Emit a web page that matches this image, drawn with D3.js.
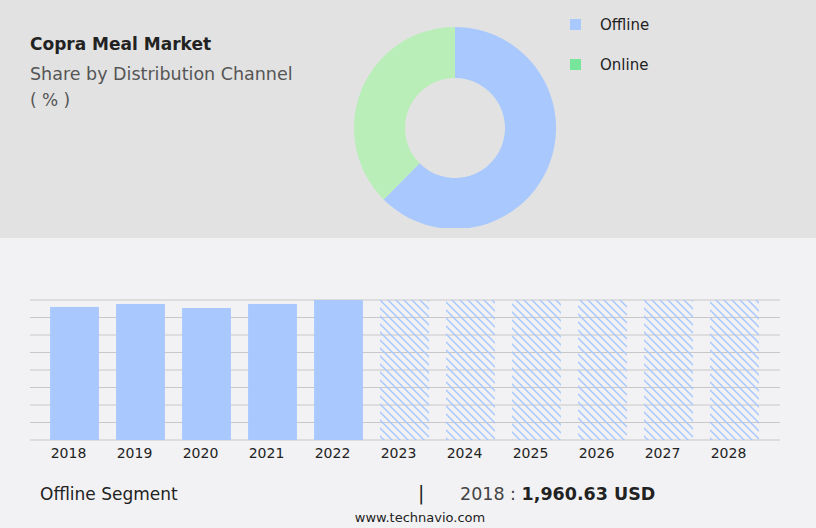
<!DOCTYPE html>
<html><head><meta charset="utf-8">
<script src="https://cdn.jsdelivr.net/npm/d3@7"></script>
<style>body{margin:0;font-family:"DejaVu Sans",sans-serif}</style>
</head><body>
<svg id="c" width="816" height="528"></svg>
<script>
var shareLabels=["Offline","Online"];
var shareValues=[62.5,37.5];
var shareColors=["#a8c8fe","#b9eeb9"];
var legendColors=["#a8c8fe","#77e59a"];
var years=["2018","2019","2020","2021","2022","2023","2024","2025","2026","2027","2028"];
var barValues=[1960.63,2005,1945,2005,2063,2063,2063,2063,2063,2063,2063];
var forecastFrom=5;

var svg=d3.select("#c").attr("font-family","DejaVu Sans");
svg.append("rect").attr("width",816).attr("height",528).attr("fill","#f2f2f4");
svg.append("rect").attr("width",816).attr("height",238).attr("fill","#e2e2e2");

svg.append("text").attr("x",30).attr("y",50).attr("font-size",17).attr("font-weight","bold").attr("fill","#222").text("Copra Meal Market");
svg.append("text").attr("x",30).attr("y",80).attr("font-size",17.5).attr("fill","#555").text("Share by Distribution Channel");
svg.append("text").attr("x",30).attr("y",106).attr("font-size",17).attr("fill","#555").text("( % )");

// donut
var defs=svg.append("defs");
defs.append("clipPath").attr("id","clipTop").append("rect").attr("width",816).attr("height",228);
var pie=d3.pie().sort(null).value(function(d){return d;});
var arc=d3.arc().innerRadius(50).outerRadius(101);
var g=svg.append("g").attr("clip-path","url(#clipTop)").append("g").attr("transform","translate(455,128)");
g.selectAll("path").data(pie(shareValues)).enter().append("path")
  .attr("d",arc).attr("fill",function(d,i){return shareColors[i];});

var lg=svg.append("g");
shareLabels.forEach(function(l,i){
  lg.append("rect").attr("x",570).attr("y",19+i*40).attr("width",11).attr("height",11).attr("fill",legendColors[i]);
  lg.append("text").attr("x",600).attr("y",30+i*40).attr("font-size",15).attr("fill","#222").text(l);
});

// bars
var pat=defs.append("pattern").attr("id","hatch").attr("patternUnits","userSpaceOnUse").attr("width",8).attr("height",8);
pat.append("path").attr("d","M-2,-2L10,10M-2,6L2,10M6,-2L10,2").attr("stroke","#a8c8fe").attr("stroke-width",1.5);

var x=d3.scaleBand().domain(years).range([41.5,767.5]).paddingInner(0.26).paddingOuter(0.13);
var y=d3.scaleLinear().domain([0,2063]).range([440,300]);
var grid=d3.range(0,9).map(function(i){return 2063*i/8;});
svg.append("g").selectAll("line").data(grid).enter().append("line")
  .attr("x1",30).attr("x2",780).attr("y1",function(d){return y(d);}).attr("y2",function(d){return y(d);})
  .attr("stroke","#c8c8c8").attr("stroke-width",1);
svg.append("g").selectAll("rect").data(barValues).enter().append("rect")
  .attr("x",function(d,i){return x(years[i]);}).attr("width",x.bandwidth())
  .attr("y",function(d){return y(d);}).attr("height",function(d){return 440-y(d);})
  .attr("fill",function(d,i){return i<forecastFrom?"#a8c8fe":"url(#hatch)";});
var ax=svg.append("g").attr("transform","translate(-6,440)").call(d3.axisBottom(x).tickSize(0).tickPadding(8));
ax.select(".domain").remove();
ax.selectAll("text").attr("font-size",14).attr("fill","#222").attr("font-family","DejaVu Sans");

svg.append("text").attr("x",40).attr("y",500).attr("font-size",17).attr("fill","#222").text("Offline Segment");
svg.append("text").attr("x",418).attr("y",500).attr("font-size",19).attr("fill","#222").text("|");
var t=svg.append("text").attr("x",460).attr("y",500).attr("font-size",17.5).attr("fill","#444");
t.append("tspan").text("2018 : ");
t.append("tspan").attr("font-weight","bold").attr("fill","#222").text("1,960.63 USD");
svg.append("text").attr("x",420).attr("y",522).attr("text-anchor","middle").attr("font-size",13).attr("fill","#222").text("www.technavio.com");
</script>
</body></html>
